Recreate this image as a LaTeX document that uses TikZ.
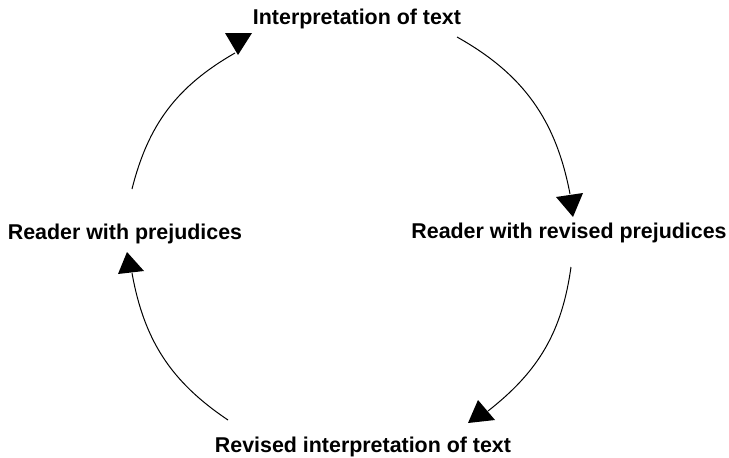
\documentclass[tikz,border=0pt]{standalone}
\usepackage{fontspec}
\setmainfont{Liberation Sans}
\begin{document}
\begin{tikzpicture}[x=1pt,y=-1pt,
  lbl/.style={font=\fontsize{21.4}{25}\selectfont\bfseries, inner sep=0pt, anchor=base},
  link/.style={draw=black, line width=1pt},
  tip/.style={fill=black}]
\useasboundingbox (0,0) rectangle (729,458);
% labels
\node[lbl] (top) at (357,24) {Interpretation of text};
\node[lbl] (right) at (569,238) {Reader with revised prejudices};
\node[lbl] (bottom) at (363,452) {Revised interpretation of text};
\node[lbl] (left) at (125,239) {Reader with prejudices};
% arc end points
\coordinate (a1s) at (132,189); \coordinate (a1e) at (235,53);
\coordinate (a2s) at (457,37);  \coordinate (a2e) at (570,194);
\coordinate (a3s) at (571,267); \coordinate (a3e) at (488,411);
\coordinate (a4s) at (228,420); \coordinate (a4e) at (132,273);
% connectors
\draw[link] (a1s) to[bend left=23] (a1e);
\draw[link] (a2s) to[bend left=25] (a2e);
\draw[link] (a3s) to[bend left=22] (a3e);
\draw[link] (a4s) to[bend left=23] (a4e);
% arrowheads
\fill[tip] (225,33) -- (252,33) -- (238,55) -- cycle;
\fill[tip] (556,197) -- (583,193) -- (573,217) -- cycle;
\fill[tip] (478,400) -- (495,420) -- (468,423) -- cycle;
\fill[tip] (127,252) -- (144,271) -- (118,274) -- cycle;
\end{tikzpicture}
\end{document}
